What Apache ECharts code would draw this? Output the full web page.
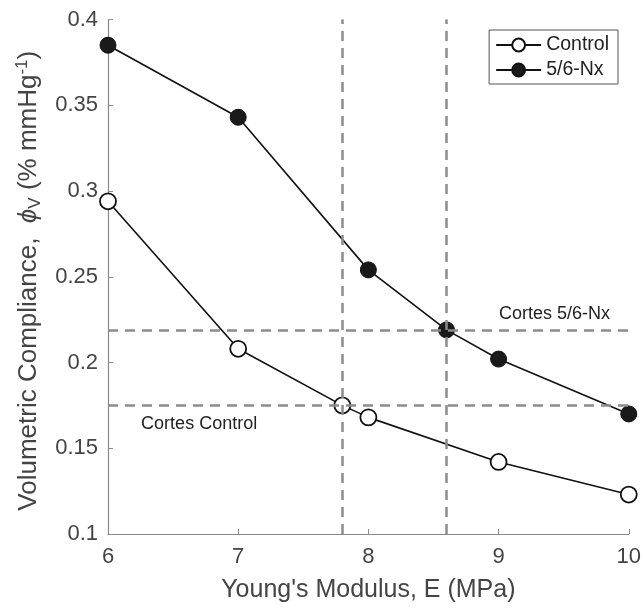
<!DOCTYPE html>
<html>
<head>
<meta charset="utf-8">
<script src="https://cdn.jsdelivr.net/npm/echarts@6/dist/echarts.min.js"></script>
<style>
  html, body { margin: 0; padding: 0; background: #fff; }
  #chart { width: 644px; height: 608px; }
</style>
</head>
<body>
<div id="chart"></div>
<script>
// Young's modulus (MPa) and volumetric compliance (% mmHg^-1)
const controlE = [6, 7, 7.8, 8, 9, 10]
const controlPhi = [0.294, 0.208, 0.175, 0.168, 0.142, 0.123]
const nxE = [6, 7, 8, 8.6, 9, 10]
const nxPhi = [0.385, 0.343, 0.254, 0.219, 0.202, 0.170]

// Cortes reference values
const cortesE = [7.8, 8.6]
const cortesPhi = [0.175, 0.219]
const cortesLabels = [
  { text: 'Cortes Control', at: [6.7, 0.164] },
  { text: 'Cortes 5/6-Nx', at: [9.43, 0.228] }
]

const FONT = "'Liberation Sans', Arial, sans-serif"
const AXIS_GREY = '#8a8a8a'
const DASH_GREY = '#8c8c8c'
const TEXT = '#444'

const chart = echarts.init(document.getElementById('chart'))

const dashStyle = { color: DASH_GREY, width: 2.5, type: [10, 7] }

const refLines = []
cortesE.forEach(e => refLines.push([{ coord: [e, 0.1] }, { coord: [e, 0.4] }]))
cortesPhi.forEach(p => refLines.push([{ coord: [6, p] }, { coord: [10, p] }]))

chart.setOption({
  animation: false,
  textStyle: { fontFamily: FONT },
  grid: { left: 108, right: 14, top: 19.5, bottom: 68, containLabel: false },
  legend: {
    right: 26,
    top: 30,
    orient: 'vertical',
    itemWidth: 45,
    itemHeight: 16,
    itemGap: 5,
    padding: [5, 9, 4, 6],
    borderColor: '#555',
    borderWidth: 1,
    borderRadius: 0,
    backgroundColor: '#fff',
    textStyle: { fontSize: 19.5, color: '#222', fontFamily: FONT },
    data: ['Control', '5/6-Nx']
  },
  xAxis: {
    type: 'value',
    min: 6,
    max: 10,
    interval: 1,
    name: "Young's Modulus, E (MPa)",
    nameLocation: 'middle',
    nameGap: 44,
    nameTextStyle: { fontSize: 25, color: TEXT, fontFamily: FONT },
    axisLine: { lineStyle: { color: AXIS_GREY, width: 1.2 } },
    axisTick: { inside: true, length: 5, lineStyle: { color: AXIS_GREY } },
    axisLabel: { fontSize: 22, color: TEXT, margin: 12 },
    splitLine: { show: false }
  },
  yAxis: {
    type: 'value',
    min: 0.1,
    max: 0.4,
    interval: 0.05,
    name: 'Volumetric Compliance,  {i|ϕ}{sub|V} (% mmHg{sup|-1})',
    nameLocation: 'middle',
    nameGap: 64,
    nameTextStyle: {
      fontSize: 26, color: TEXT, fontFamily: FONT,
      padding: [0, 8, 0, 0],
      rich: {
        i: { fontSize: 26, color: TEXT, fontStyle: 'italic', fontFamily: FONT },
        sub: { fontSize: 17, color: TEXT, padding: [13, 0, 0, 0], fontFamily: FONT },
        sup: { fontSize: 17, color: TEXT, padding: [0, 0, 13, 0], fontFamily: FONT }
      }
    },
    axisLine: { show: true, lineStyle: { color: AXIS_GREY, width: 1.2 } },
    axisTick: { show: true, inside: true, length: 5, lineStyle: { color: AXIS_GREY } },
    axisLabel: { fontSize: 22, color: TEXT, margin: 10 },
    splitLine: { show: false }
  },
  series: [
    {
      name: 'refs',
      type: 'line',
      data: [],
      silent: true,
      markLine: {
        silent: true,
        symbol: 'none',
        label: { show: false },
        lineStyle: dashStyle,
        data: refLines
      },
      markPoint: {
        symbol: 'circle',
        symbolSize: 0,
        label: { show: true, color: '#222', fontSize: 18, fontFamily: FONT, formatter: p => p.name },
        data: cortesLabels.map(l => ({ name: l.text, coord: l.at }))
      }
    },
    {
      name: 'Control',
      type: 'line',
      data: controlE.map((e, i) => [e, controlPhi[i]]),
      symbol: 'circle',
      symbolSize: 16,
      lineStyle: { color: '#111', width: 1.6 },
      itemStyle: { color: '#fff', borderColor: '#111', borderWidth: 1.8 },
      z: 3
    },
    {
      name: '5/6-Nx',
      type: 'line',
      data: nxE.map((e, i) => [e, nxPhi[i]]),
      symbol: 'circle',
      symbolSize: 16,
      lineStyle: { color: '#111', width: 1.6 },
      itemStyle: { color: '#1a1a1a', borderColor: '#111', borderWidth: 1 },
      z: 3
    }
  ]
})
</script>
</body>
</html>
